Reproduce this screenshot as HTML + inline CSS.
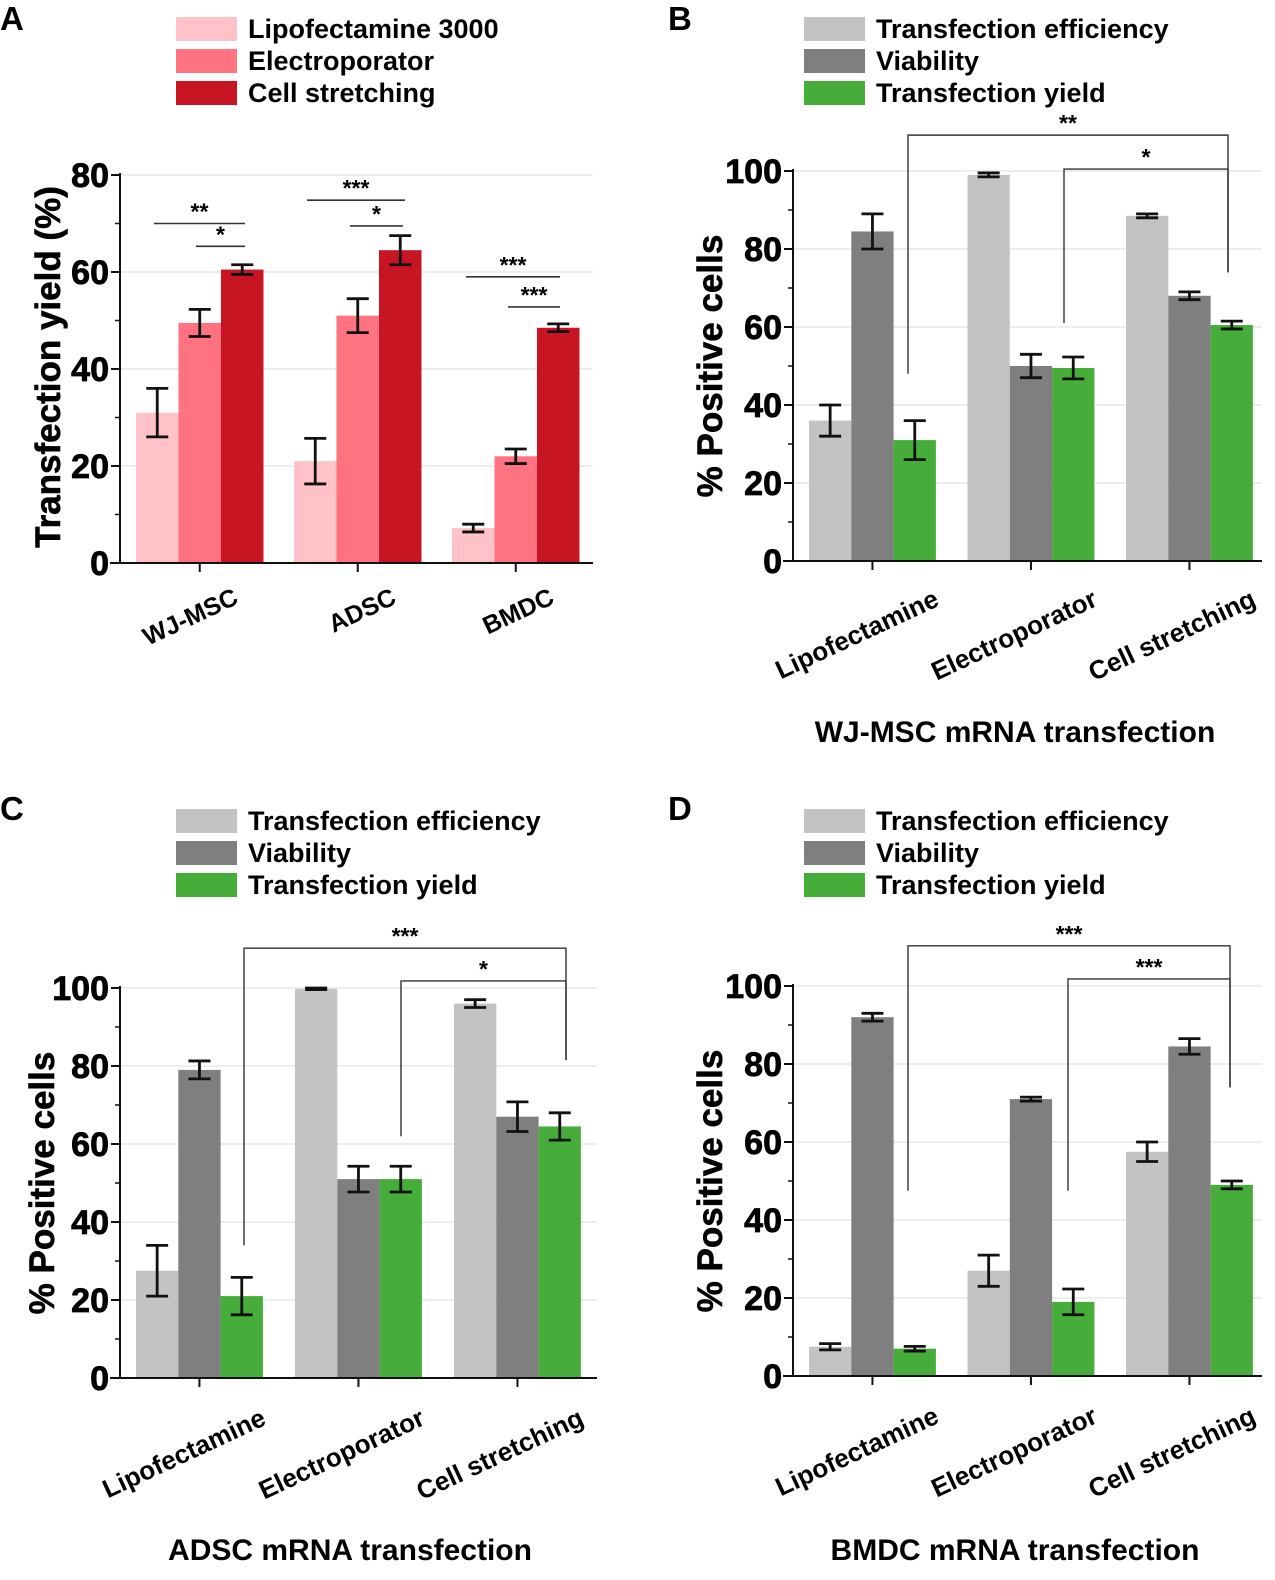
<!DOCTYPE html>
<html><head><meta charset="utf-8"><style>
body{margin:0;background:#fff;}
svg{display:block;font-family:"Liberation Sans",Arial,sans-serif;font-weight:bold;}
</style></head><body>
<svg id="fig" width="1275" height="1580" viewBox="0 0 1275 1580" xmlns="http://www.w3.org/2000/svg"></svg>
<script>
// ---- data ----
const catA = ["WJ-MSC","ADSC","BMDC"];
const seriesA = ["Lipofectamine 3000","Electroporator","Cell stretching"];
const lipoA = [31,21,7.2], lipoAErr=[5,4.7,0.8];
const elecA = [49.5,51,22], elecAErr=[2.8,3.5,1.5];
const strA = [60.5,64.5,48.5], strAErr=[1,3,0.8];
const ticksA = [0,20,40,60,80];

const catMeth = ["Lipofectamine","Electroporator","Cell stretching"];
const seriesEff = ["Transfection efficiency","Viability","Transfection yield"];
const effB=[36,99,88.5], effBErr=[4,0.5,0.5];
const viaB=[84.5,50,68], viaBErr=[4.5,3,1];
const yldB=[31,49.5,60.5], yldBErr=[5,2.8,1];
const effC=[27.5,99.8,96], effCErr=[6.5,0.2,1];
const viaC=[79,51,67], viaCErr=[2.3,3.3,3.8];
const yldC=[21,51,64.5], yldCErr=[4.8,3.3,3.5];
const effD=[7.5,27,57.5], effDErr=[0.8,4,2.5];
const viaD=[92,71,84.5], viaDErr=[1,0.5,2];
const yldD=[7,19,49], yldDErr=[0.6,3.3,1];
const ticksP = [0,20,40,60,80,100];

const NS="http://www.w3.org/2000/svg";
const svg=document.getElementById('fig');
function mk(tag,attrs,parent,text){const e=document.createElementNS(NS,tag);for(const k in attrs)e.setAttribute(k,attrs[k]);if(text!==undefined)e.textContent=text;(parent||svg).appendChild(e);return e;}

function panel(o){
  const g=mk('g',{});
  
  
  const y=v=>o.y0-(v-0)/(o.ymax)*(o.y0-o.ytop);
  const gx=i=>o.x0+16+i*o.gs;
  const bw=o.bw;
  o.ticks.forEach(t=>{if(t>0){const l=mk('line',{x1:o.x0,x2:o.xr,y1:y(t),y2:y(t),stroke:'#e2e2e2','stroke-width':1.2},g);}});
  o.series.forEach((s,si)=>{
    s.vals.forEach((v,i)=>{
      const x=gx(i)+si*bw;
      const r=mk('rect',{x:x,y:y(v),width:bw,height:o.y0-y(v),fill:s.color},g);
      
      
      const cx=x+bw/2, e=s.err[i];
      const eg=mk('g',{stroke:'#111','stroke-width':2.8},g);
      
      
      mk('line',{x1:cx,x2:cx,y1:y(v+e),y2:y(v-e)},eg);
      mk('line',{x1:cx-11,x2:cx+11,y1:y(v+e),y2:y(v+e)},eg);
      mk('line',{x1:cx-11,x2:cx+11,y1:y(v-e),y2:y(v-e)},eg);
    });
  });
  const ax=mk('line',{x1:o.x0,x2:o.x0,y1:o.ytop-2,y2:o.y0,stroke:'#111','stroke-width':2},g);
  
  const bx=mk('line',{x1:o.x0-10,x2:o.xr,y1:o.y0,y2:o.y0,stroke:'#111','stroke-width':2},g);
  
  o.ticks.forEach((t,k)=>{
    mk('line',{x1:o.x0-9,x2:o.x0,y1:y(t),y2:y(t),stroke:'#111','stroke-width':2},g);
    if(k<o.ticks.length-1){const m=t+(o.ticks[1]-o.ticks[0])/2;mk('line',{x1:o.x0-5,x2:o.x0,y1:y(m),y2:y(m),stroke:'#111','stroke-width':1.5},g);}
    const tl=mk('text',{x:o.x0-11,y:y(t)+12,'text-anchor':'end','font-size':34,'stroke':'#000','stroke-width':0.8},g,String(t));
    
  });
  o.cats.forEach((c,i)=>{
    const tx=gx(i)+1.5*bw;
    mk('line',{x1:tx,x2:tx,y1:o.y0,y2:o.y0+9,stroke:'#111','stroke-width':2},g);
    const lx=tx+o.lblDx, ly=o.y0+o.lblDy;
    const t=mk('text',{x:lx,y:ly,'text-anchor':'end','font-size':o.lblSize,transform:`rotate(-25 ${lx} ${ly})`},g,c);
    
  });
  const yt=mk('text',{x:o.ytx,y:o.yty,'text-anchor':'middle','font-size':35,'stroke':'#000','stroke-width':0.6,transform:`rotate(-90 ${o.ytx} ${o.yty})`},g,o.ytitle);
  
  if(o.xtitle){const xt=mk('text',{x:o.xtx,y:o.xty,'text-anchor':'middle','font-size':30},g,o.xtitle);}
  o.series.forEach((s,si)=>{
    const ly=o.legY+si*32;
    const lr=mk('rect',{x:o.legX,y:ly,width:61,height:24,fill:s.color},g);
    
    const lt=mk('text',{x:o.legX+72,y:ly+21,'font-size':27},g,s.label);
    
  });
  const pl=mk('text',{x:o.letX,y:o.letY,'font-size':33},g,o.letter);
  
  (o.sig||[]).forEach(s=>{
    const sg=mk('g',{},g);
    
    if(s.type==='line'){
      mk('line',{x1:s.x1,x2:s.x2,y1:y(s.v),y2:y(s.v),stroke:'#333','stroke-width':1.6},sg);
    } else {
      mk('polyline',{points:`${s.x1},${y(s.d1)} ${s.x1},${y(s.v)} ${s.x2},${y(s.v)} ${s.x2},${y(s.d2)}`,fill:'none',stroke:'#333','stroke-width':1.4},sg);
    }
    mk('text',{x:(s.x1+s.x2)/2,y:y(s.v)-4,'text-anchor':'middle','font-size':23},sg,s.label);
  });
}
const red=['#ffc2c8','#ff7280','#c71524'];
const gr=['#c3c3c3','#7f7f7f','#47ad3a'];
panel({name:'panel-a',letter:'A',letX:0,letY:30,x0:120,xr:593,y0:563,ytop:175,ymax:80,ticks:ticksA,gs:158,bw:42.5,
  cats:catA,lblDx:40,lblDy:40,lblSize:25,ytitle:'Transfection yield (%)',ytx:60,yty:367,legX:176,legY:17,
  series:[{key:'lipofectamine',label:seriesA[0],vals:lipoA,err:lipoAErr,color:red[0]},{key:'electroporator',label:seriesA[1],vals:elecA,err:elecAErr,color:red[1]},{key:'stretching',label:seriesA[2],vals:strA,err:strAErr,color:red[2]}],
  sig:[{type:'line',x1:154,x2:245,v:70,label:'**'},{type:'line',x1:196,x2:245,v:65.3,label:'*'},{type:'line',x1:307,x2:405,v:74.8,label:'***'},{type:'line',x1:350,x2:403,v:69.5,label:'*'},{type:'line',x1:466,x2:560,v:59,label:'***'},{type:'line',x1:508,x2:560,v:52.8,label:'***'}]});
panel({name:'panel-b',letter:'B',letX:668,letY:30,x0:793,xr:1262,y0:561,ytop:171,ymax:100,ticks:ticksP,gs:158.5,bw:42.3,
  cats:catMeth,lblDx:68,lblDy:44,lblSize:26,ytitle:'% Positive cells',ytx:722,yty:366,xtitle:'WJ-MSC mRNA transfection',xtx:1015,xty:742,legX:804,legY:17,
  series:[{key:'efficiency',label:seriesEff[0],vals:effB,err:effBErr,color:gr[0]},{key:'viability',label:seriesEff[1],vals:viaB,err:viaBErr,color:gr[1]},{key:'yield',label:seriesEff[2],vals:yldB,err:yldBErr,color:gr[2]}],
  sig:[{type:'br',x1:908,x2:1228,v:109.2,d1:48,d2:74,label:'**'},{type:'br',x1:1064,x2:1228,v:100.5,d1:61,d2:74,label:'*'}]});
panel({name:'panel-c',letter:'C',letX:0,letY:820,x0:120,xr:597,y0:1378,ytop:988,ymax:100,ticks:ticksP,gs:159,bw:42.3,
  cats:catMeth,lblDx:68,lblDy:46,lblSize:26,ytitle:'% Positive cells',ytx:54,yty:1183,xtitle:'ADSC mRNA transfection',xtx:350,xty:1560,legX:176,legY:809,
  series:[{key:'efficiency',label:seriesEff[0],vals:effC,err:effCErr,color:gr[0]},{key:'viability',label:seriesEff[1],vals:viaC,err:viaCErr,color:gr[1]},{key:'yield',label:seriesEff[2],vals:yldC,err:yldCErr,color:gr[2]}],
  sig:[{type:'br',x1:244,x2:566,v:110.2,d1:34,d2:81.5,label:'***'},{type:'br',x1:401,x2:566,v:101.8,d1:62,d2:81.5,label:'*'}]});
panel({name:'panel-d',letter:'D',letX:668,letY:820,x0:793,xr:1262,y0:1376,ytop:986,ymax:100,ticks:ticksP,gs:158.5,bw:42.3,
  cats:catMeth,lblDx:68,lblDy:46,lblSize:26,ytitle:'% Positive cells',ytx:722,yty:1181,xtitle:'BMDC mRNA transfection',xtx:1015,xty:1560,legX:804,legY:809,
  series:[{key:'efficiency',label:seriesEff[0],vals:effD,err:effDErr,color:gr[0]},{key:'viability',label:seriesEff[1],vals:viaD,err:viaDErr,color:gr[1]},{key:'yield',label:seriesEff[2],vals:yldD,err:yldDErr,color:gr[2]}],
  sig:[{type:'br',x1:908,x2:1230,v:110.3,d1:47.5,d2:74,label:'***'},{type:'br',x1:1068,x2:1230,v:101.8,d1:47.5,d2:74,label:'***'}]});
</script>
</body></html>
